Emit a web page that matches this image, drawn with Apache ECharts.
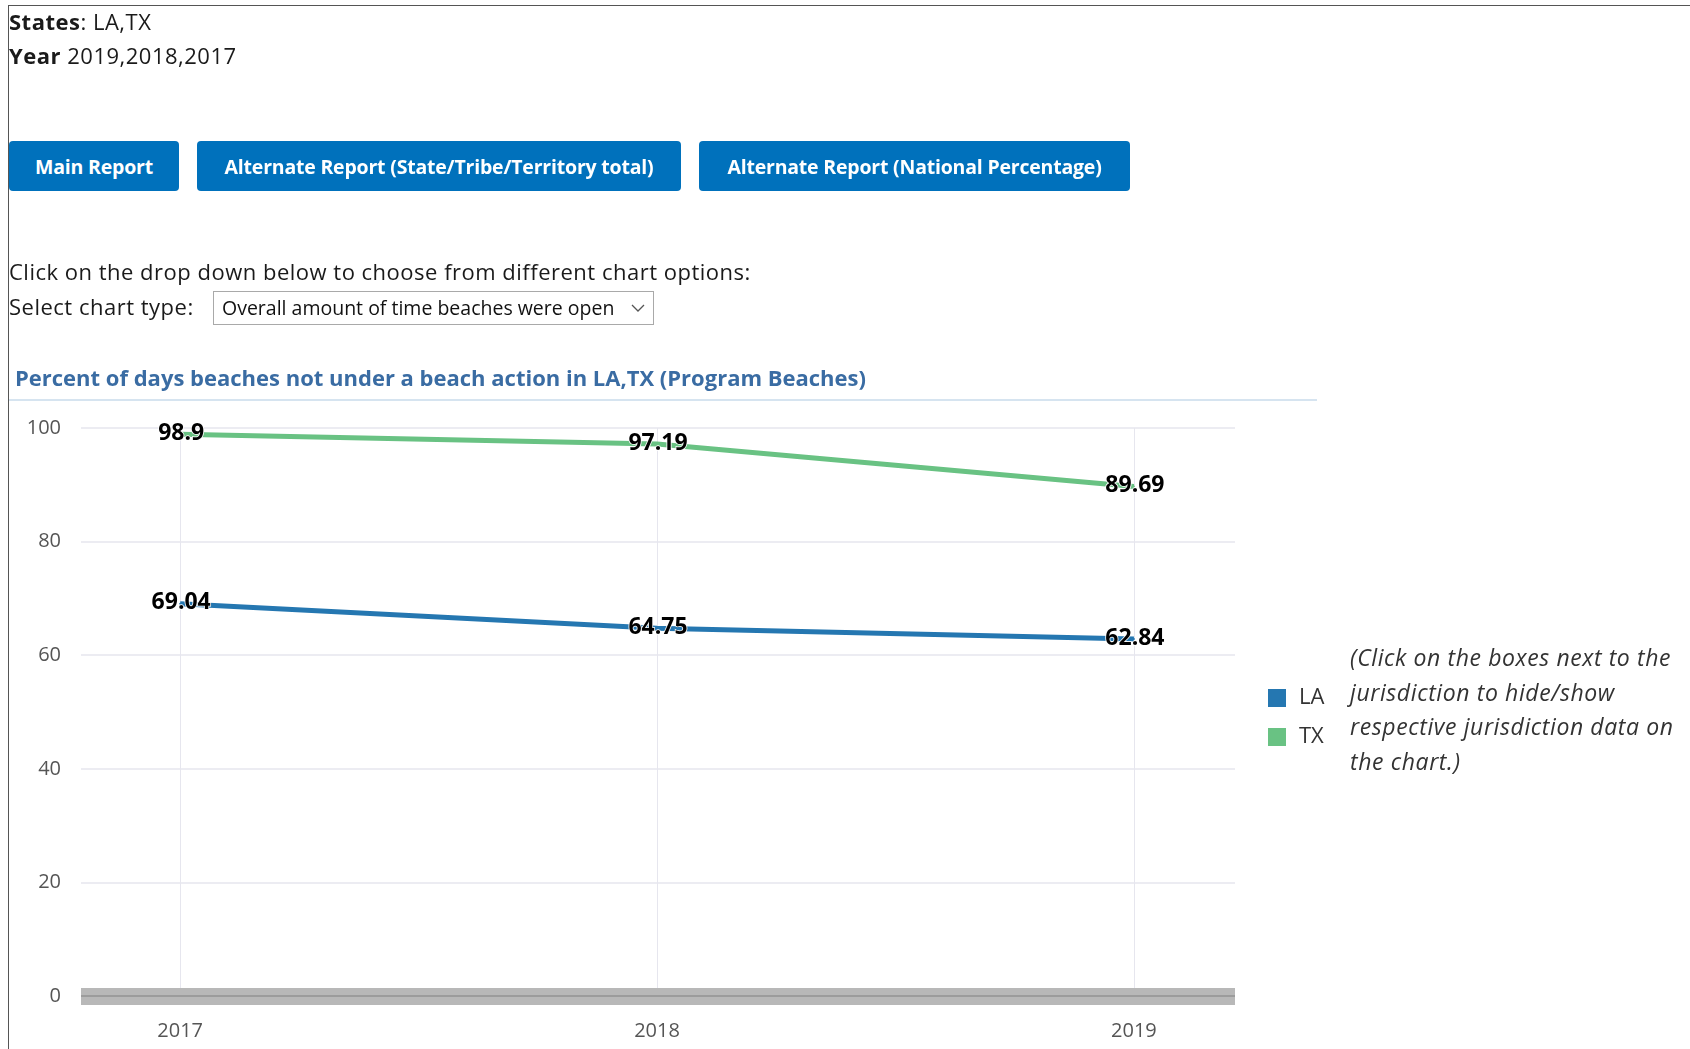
<!DOCTYPE html>
<html>
<head>
<meta charset="utf-8">
<title>Beach report</title>
<script src="https://cdn.jsdelivr.net/npm/echarts@6/dist/echarts.min.js"></script>
<style>
  html, body { margin: 0; padding: 0; background: #fff; }
  body { width: 1690px; height: 1049px; position: relative; overflow: hidden;
         font-family: "Open Sans", "Noto Sans", sans-serif; color: #1a1a1a; }
  #frame { position: absolute; left: 8px; top: 5px; right: -2px; bottom: -2px;
           border-left: 1px solid #555; border-top: 1px solid #555; }
  #chart { position: absolute; left: 0; top: 0; width: 1690px; height: 1049px; }
  .line { position: absolute; left: 9px; font-size: 22px; letter-spacing: 0.5px; white-space: nowrap; }
  .btn { position: absolute; top: 141px; height: 50px; background: #0071bc; color: #fff;
         border-radius: 4px; font-weight: bold; font-size: 19.5px; display: flex;
         align-items: center; justify-content: center; letter-spacing: -0.2px; }
  #select { position: absolute; left: 213px; top: 291px; width: 441px; height: 34px;
            border: 1px solid #a9a9a9; font-size: 19.5px; box-sizing: border-box;
            padding-left: 8px; line-height: 32px; color: #111; }
  #select svg { position: absolute; right: 8px; top: 12px; }
  #note { position: absolute; left: 1350px; top: 640px; font-size: 23px; font-style: italic;
          letter-spacing: 0.6px; line-height: 34.5px; color: #333; white-space: nowrap; }
</style>
</head>
<body>
<div id="chart"></div>
<div id="frame"></div>
<div class="line" style="top:6px"><b>States</b>: LA,TX</div>
<div class="line" style="top:40px"><b>Year</b> 2019,2018,2017</div>
<div class="btn" style="left:9px;width:170px">Main Report</div>
<div class="btn" style="left:197px;width:484px">Alternate Report (State/Tribe/Territory total)</div>
<div class="btn" style="left:699px;width:431px">Alternate Report (National Percentage)</div>
<div class="line" style="top:256px">Click on the drop down below to choose from different chart options:</div>
<div class="line" style="top:291px">Select chart type:</div>
<div id="select">Overall amount of time beaches were open
  <svg width="14" height="9" viewBox="0 0 14 9"><polyline points="1,1 7,7 13,1" fill="none" stroke="#555" stroke-width="1.3"/></svg>
</div>
<div id="note">(Click on the boxes next to the<br>jurisdiction to hide/show<br>respective jurisdiction data on<br>the chart.)</div>
<script>
// Reporting years and per-state share of days beaches were open (percent)
const years = [2017, 2018, 2019];
const laValues = [69.04, 64.75, 62.84];
const txValues = [98.9, 97.19, 89.69];

const pairs = vals => years.map((y, i) => [y, vals[i]]);
const FONT = 'Open Sans, Noto Sans, sans-serif';
const LA_COLOR = '#2577b1';
const TX_COLOR = '#69c283';

const chart = echarts.init(document.getElementById('chart'));
const labelStyle = {
  show: true, position: 'inside', offset: [1, -1],
  color: '#000', fontWeight: 'bold', fontSize: 23, fontFamily: FONT,
  textBorderColor: '#fff', textBorderWidth: 1.5,
  formatter: p => String(p.value[1])
};
const xBase = {
  type: 'value', min: 2016.792, max: 2019.212, position: 'bottom'
};

chart.setOption({
  animation: false,
  title: {
    text: 'Percent of days beaches not under a beach action in LA,TX (Program Beaches)',
    left: 10, top: 364,
    textStyle: { color: '#3a6ca3', fontSize: 22, fontWeight: 'bold', fontFamily: FONT }
  },
  graphic: [{
    type: 'line', shape: { x1: 9, y1: 400, x2: 1317, y2: 400 },
    style: { stroke: '#d6e4f0', lineWidth: 2 }
  }],
  legend: {
    orient: 'vertical', left: 1263, top: 682,
    itemWidth: 18, itemHeight: 18, itemGap: 17,
    icon: 'rect',
    textStyle: { color: '#333', fontSize: 22, fontFamily: FONT, padding: [0, 0, 0, 8] },
    data: ['LA', 'TX']
  },
  grid: { left: 81, right: 455, top: 428, bottom: 53 },
  xAxis: [
    Object.assign({}, xBase, {
      axisLine: { show: true, onZero: false, lineStyle: { color: '#b8b8b8', width: 17, cap: 'butt' } },
      axisTick: { show: false, customValues: years },
      splitLine: { show: true, lineStyle: { color: '#e6e6ee', width: 1 } },
      axisLabel: { customValues: years, margin: 25, color: '#555', fontSize: 20,
                   fontFamily: FONT, formatter: v => String(v) }
    }),
    Object.assign({}, xBase, {
      axisLine: { show: true, onZero: false, lineStyle: { color: '#939393', width: 1.5, cap: 'butt' } },
      axisTick: { show: false }, axisLabel: { show: false }, splitLine: { show: false }
    })
  ],
  yAxis: {
    type: 'value', min: 0, max: 100, interval: 20,
    axisLine: { show: false }, axisTick: { show: false },
    splitLine: { lineStyle: { color: '#e6e6ee', width: 1.5 } },
    axisLabel: { margin: 20, color: '#555', fontSize: 20, fontFamily: FONT }
  },
  series: [
    {
      name: 'LA', type: 'line', data: pairs(laValues),
      color: LA_COLOR, showSymbol: true, symbol: 'circle', symbolSize: 2,
      lineStyle: { width: 5, color: LA_COLOR },
      label: labelStyle, z: 3
    },
    {
      name: 'TX', type: 'line', data: pairs(txValues),
      color: TX_COLOR, showSymbol: true, symbol: 'circle', symbolSize: 2,
      lineStyle: { width: 5, color: TX_COLOR },
      label: labelStyle, z: 3
    }
  ]
});
</script>
</body>
</html>
